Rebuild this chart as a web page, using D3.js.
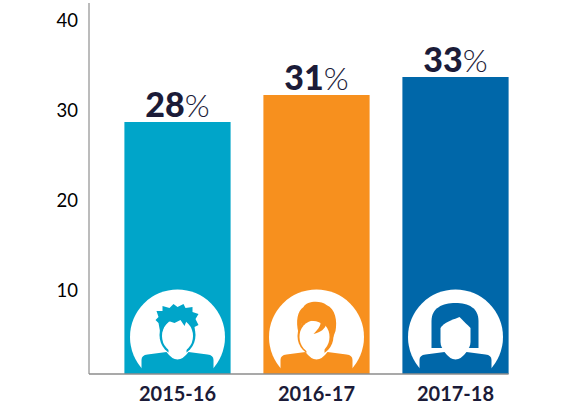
<!DOCTYPE html>
<html>
<head>
<meta charset="utf-8">
<script src="https://cdn.jsdelivr.net/npm/d3@7"></script>
<style>
  body { margin: 0; background: #fff; }
  svg { display: block; }
</style>
</head>
<body>
<div id="chart"></div>
<script>
// données
const years = ["2015-16", "2016-17", "2017-18"];
const values = [28, 31, 33];
const barColors = ["#00a5c9", "#f7901e", "#0067a9"];
const icons = ["boy", "girl", "woman"];
const yTicks = [10, 20, 30, 40];

const width = 566, height = 411;
const textColor = "#1b1b38";

const svg = d3.select("#chart").append("svg")
    .attr("width", width)
    .attr("height", height);

const x = d3.scaleBand()
    .domain(years)
    .range([108, 525])
    .paddingInner(0.236)
    .paddingOuter(0.118);

const y = d3.scaleLinear()
    .domain([0, 40])
    .range([374, 14]);

// axe vertical
svg.append("line")
    .attr("x1", 89).attr("x2", 89)
    .attr("y1", 3).attr("y2", y(0))
    .attr("stroke", "#a6a6a6")
    .attr("stroke-width", 1.5);

const yAxis = svg.append("g")
    .attr("transform", "translate(78,0)")
    .call(d3.axisLeft(y).tickValues(yTicks).tickSize(0).tickPadding(0));
yAxis.select(".domain").remove();
yAxis.selectAll("text")
    .attr("font-family", "Lato, sans-serif")
    .attr("font-size", 18.5)
    .attr("fill", "#000")
    .attr("dy", "0.7em");

// barres
const bars = svg.selectAll("g.bar")
    .data(years)
    .enter()
    .append("g")
    .attr("class", "bar");

bars.append("clipPath")
    .attr("id", (d, i) => "clip" + i)
    .append("rect")
    .attr("x", d => x(d))
    .attr("y", (d, i) => y(values[i]))
    .attr("width", x.bandwidth())
    .attr("height", (d, i) => y(0) - y(values[i]));

bars.append("rect")
    .attr("x", d => x(d))
    .attr("y", (d, i) => y(values[i]))
    .attr("width", x.bandwidth())
    .attr("height", (d, i) => y(0) - y(values[i]))
    .attr("fill", (d, i) => barColors[i]);

// icônes
bars.each(function(d, i) {
    const col = barColors[i];
    const g = d3.select(this).append("g")
        .attr("clip-path", `url(#clip${i})`)
        .append("g")
        .attr("transform", `translate(${x(d) + x.bandwidth() / 2},${y(0) - 37})`);

    g.append("circle").attr("r", 47.5).attr("fill", "#fff");

    // épaules
    g.append("path")
        .attr("d", "M-36,45 L-36,23 Q-36,18 -30,17.5 L-11,15 Q0,30 11,15 L30,17.5 Q36,18 36,23 L36,45 Z")
        .attr("fill", col);

    if (icons[i] === "boy") {
        g.append("ellipse").attr("cx", 0).attr("cy", -2).attr("rx", 18).attr("ry", 20).attr("fill", col);
        g.append("path").attr("d", "M-9,8 L-9,16 Q0,25 9,16 L9,8 Z").attr("fill", "#fff");
        g.append("ellipse").attr("cx", 0).attr("cy", -1).attr("rx", 15.5).attr("ry", 17).attr("fill", "#fff");
        g.append("path")
            .attr("d", "M-17,-3 L-19,-14 L-22,-17 L-19,-20 L-21,-26 L-15,-26 L-15,-31 L-8,-29 L-4,-33 L0,-30 L6,-33 L8,-29 L15,-30 L15,-25 L21,-23 L18,-18 L21,-12 L17,-10 L17,-1 L14,-12 L9,-16 L7,-11 L3,-17 L-3,-14 L-9,-16 L-13,-11 Z")
            .attr("fill", col);
    } else if (icons[i] === "girl") {
        g.append("ellipse").attr("cx", -1).attr("cy", -1).attr("rx", 18).attr("ry", 19.5).attr("fill", col);
        g.append("path").attr("d", "M-10,8 L-10,16 Q-1,25 8,16 L8,8 Z").attr("fill", "#fff");
        g.append("ellipse").attr("cx", -2).attr("cy", 0).attr("rx", 15).attr("ry", 16.5).attr("fill", "#fff");
        g.append("path")
            .attr("d", "M-18,-4 C-21,-16 -19,-26 -13,-30 C-10,-36 4,-37 10,-32 C19,-28 21,-16 19,-6 L16,2 C15,-6 13,-10 10,-13 C8,-8 5,-5 -3,-3 C1,-7 4,-11 4,-14 C-2,-17 -10,-17 -15,-13 C-16,-10 -17,-7 -18,-4 Z")
            .attr("fill", col);
    } else {
        g.append("path")
            .attr("d", "M-24,11 L-24,-16 C-24,-29 -13,-34 0,-34 C13,-34 23,-29 23,-16 L23,11 Z")
            .attr("fill", col);
        g.append("path").attr("d", "M-9,8 L-9,16 Q0,25 9,16 L9,8 Z").attr("fill", "#fff");
        g.append("path")
            .attr("d", "M-15,-9 C-12,-14 -4,-17 4,-20 C8,-16 12,-12 15,-9 L15,5 C15,13 8,17 0,17 C-8,17 -15,13 -15,5 Z")
            .attr("fill", "#fff");
    }
});

// ligne de base
svg.append("line")
    .attr("x1", 89).attr("x2", x(years[2]) + x.bandwidth())
    .attr("y1", y(0)).attr("y2", y(0))
    .attr("stroke", "#8c8c8c")
    .attr("stroke-width", 1.5);

// étiquettes de valeur
const labels = bars.append("text")
    .attr("x", d => x(d) + x.bandwidth() / 2)
    .attr("y", (d, i) => y(values[i]) - 5)
    .attr("text-anchor", "middle")
    .attr("font-family", "Lato, sans-serif")
    .attr("fill", textColor);
labels.append("tspan")
    .attr("font-size", 34)
    .attr("font-weight", 900)
    .text((d, i) => values[i]);
labels.append("tspan")
    .attr("font-size", 32)
    .attr("font-weight", 300)
    .text("%");

// étiquettes des catégories
svg.append("g").selectAll("text")
    .data(years)
    .enter()
    .append("text")
    .attr("x", d => x(d) + x.bandwidth() / 2)
    .attr("y", 401)
    .attr("text-anchor", "middle")
    .attr("font-family", "Lato, sans-serif")
    .attr("font-size", 20)
    .attr("font-weight", 700)
    .attr("fill", textColor)
    .text(d => d);
</script>
</body>
</html>
